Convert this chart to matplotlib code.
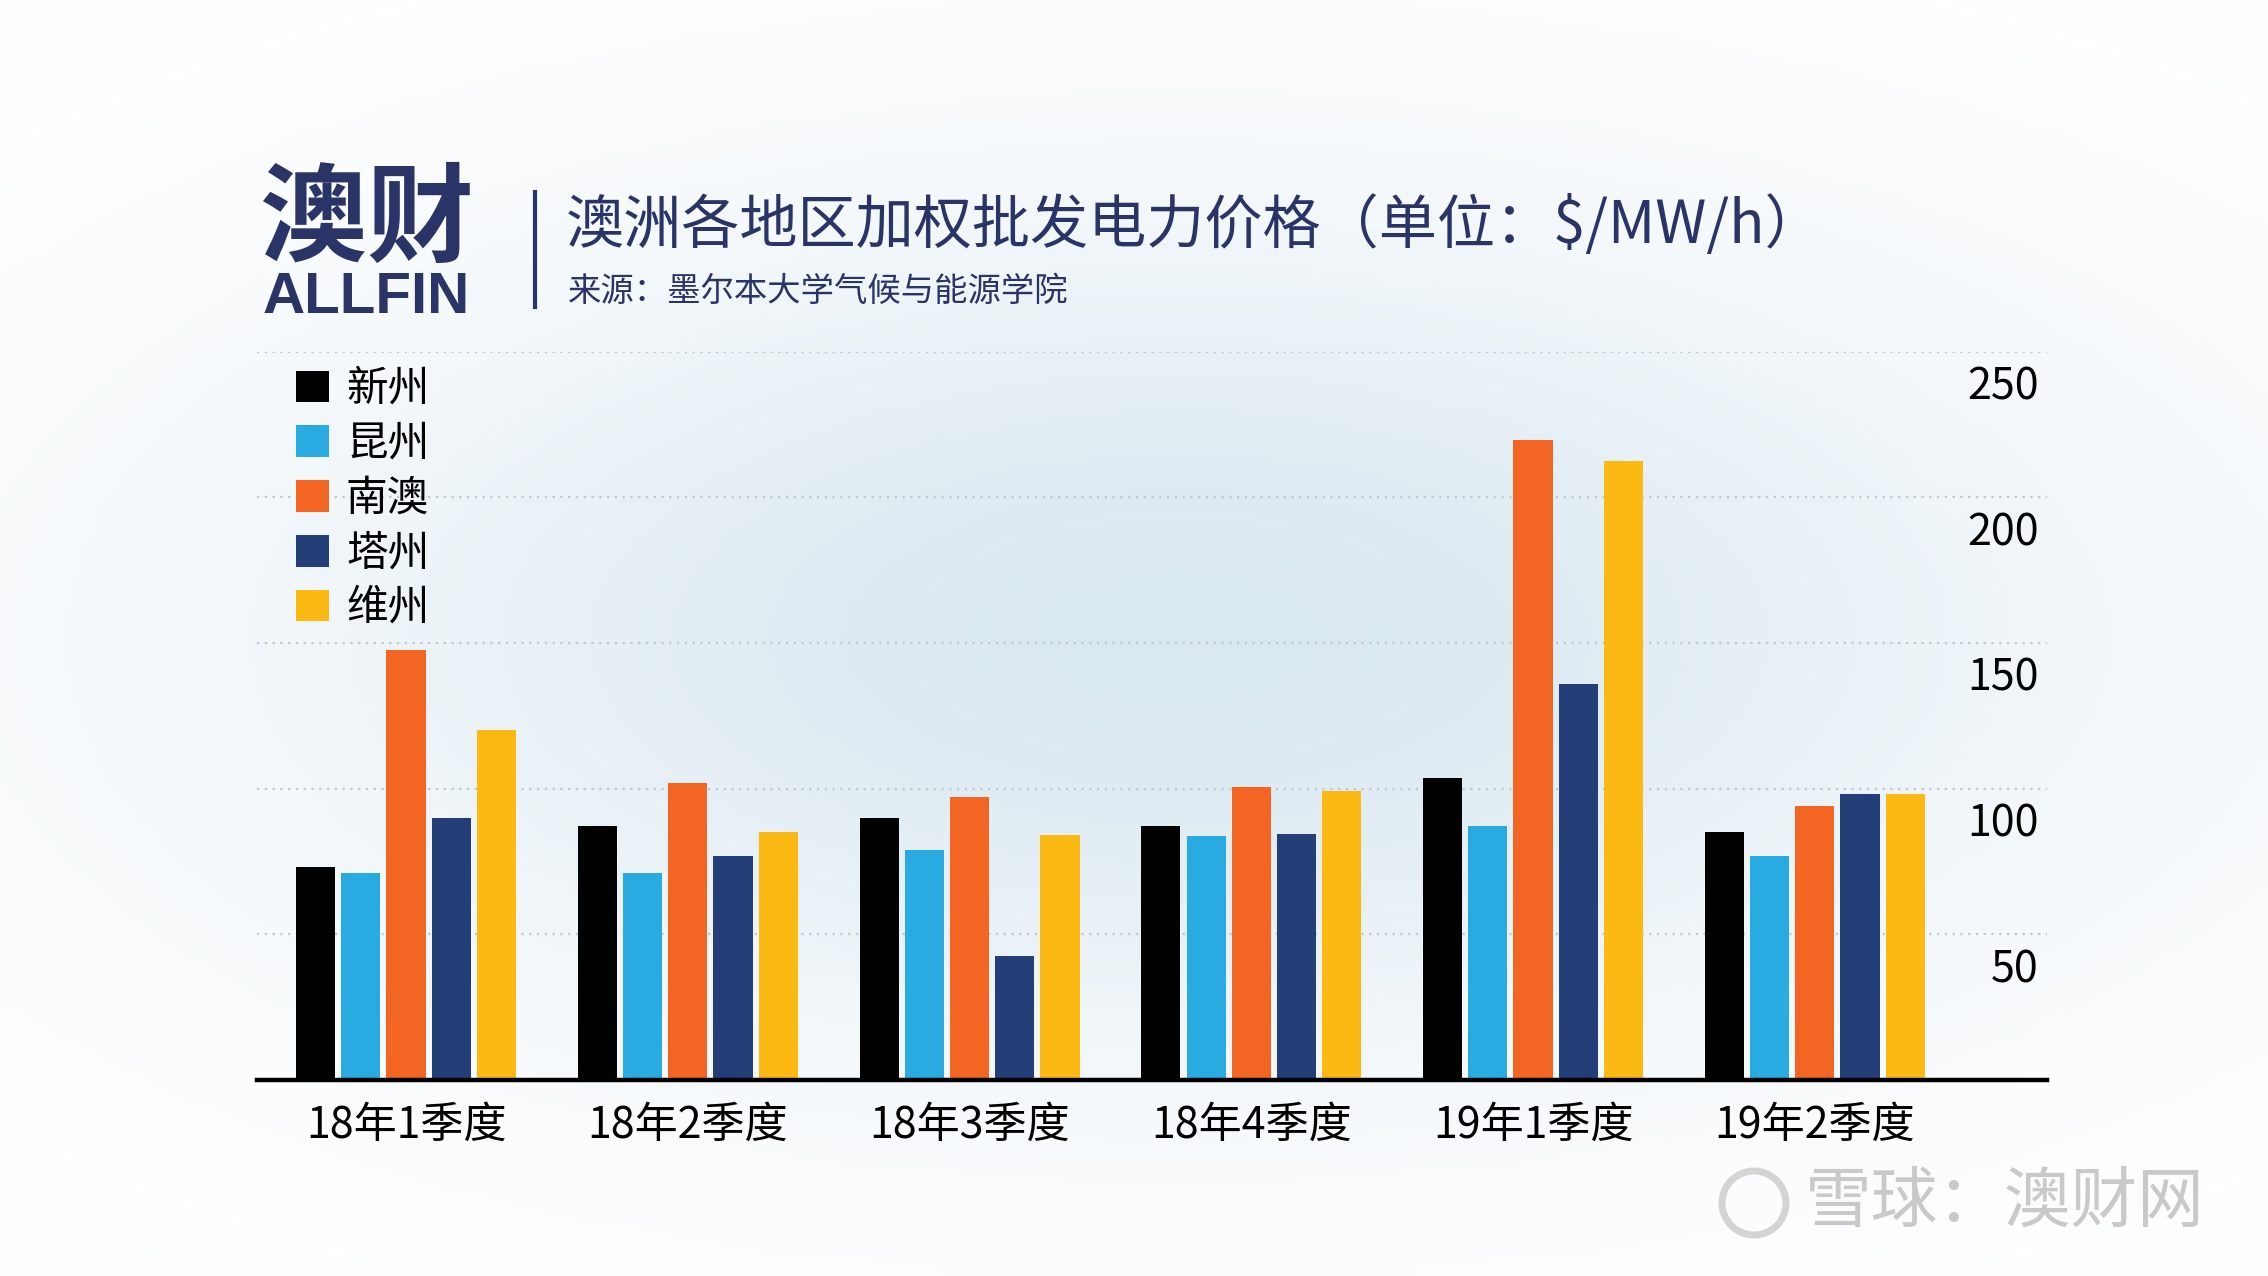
import numpy as np
import matplotlib.pyplot as plt
from matplotlib.transforms import ScaledTranslation
from matplotlib.lines import Line2D
from matplotlib.colors import to_rgb

plt.rcParams['font.family'] = ['Noto Sans CJK SC', 'DejaVu Sans']

# data ($/MW/h)
quarters = ["18年1季度", "18年2季度", "18年3季度", "18年4季度", "19年1季度", "19年2季度"]
regions = ["新州", "昆州", "南澳", "塔州", "维州"]
nsw = [73, 87, 90, 87, 103.5, 85]
qld = [71, 71, 79, 83.7, 87, 77]
sa = [147.5, 102, 97, 100.5, 219.5, 94]
tas = [90, 77, 42.7, 84.3, 135.8, 98]
vic = [120, 85, 84, 99.2, 212.3, 98]
colors = ["#000000", "#29abe2", "#f26522", "#243f78", "#fdb913"]
yticks = [50, 100, 150, 200, 250]

navy = "#2b3467"
W, H = 2268, 1276

fig = plt.figure(figsize=(22.68, 12.76), dpi=100)

# soft bluish background
bg = fig.add_axes([0, 0, 1, 1], zorder=-10)
gx, gy = np.meshgrid(np.linspace(0, 1, 300), np.linspace(0, 1, 200))
glow = np.exp(-((gx - 0.52) / 0.4) ** 2 - ((gy - 0.5) / 0.32) ** 2)
c0 = np.array(to_rgb("#ffffff"))
c1 = np.array(to_rgb("#dae8f1"))
img = c0 + (c1 - c0) * glow[..., None]
bg.imshow(img, extent=[0, 1, 0, 1], aspect="auto", origin="lower")
bg.set_axis_off()

ax = fig.add_axes([257 / W, 1 - 1080 / H, (2047 - 257) / W, (1080 - 351.5) / H])
ax.patch.set_alpha(0)

x = np.arange(len(quarters))
pitch = 0.1605
series = [nsw, qld, sa, tas, vic]
for i in range(len(regions)):
    ax.bar(x + (i - 2) * pitch, series[i], width=0.139, color=colors[i],
           label=regions[i], zorder=3)

ax.set_xlim(-0.529, 5.824)
ax.set_ylim(0, 250)
ax.set_yticks(yticks)
ax.grid(axis="y", linestyle=(0, (1, 2.5)), color="#bfc8d0", linewidth=1.6, zorder=0)
for s in ["left", "right", "top"]:
    ax.spines[s].set_visible(False)
ax.spines["bottom"].set_linewidth(3.2)
ax.spines["bottom"].set_color("black")
ax.spines["bottom"].set_zorder(4)

ax.set_xticks(x, quarters)
ax.tick_params(axis="x", length=0, pad=17, labelsize=31)
ax.yaxis.tick_right()
ax.tick_params(axis="y", length=0, pad=-6, labelsize=31)
shift = ScaledTranslation(0, -0.31, fig.dpi_scale_trans)
for lab in ax.get_yticklabels():
    lab.set_horizontalalignment("right")
    lab.set_transform(lab.get_transform() + shift)

ax.legend(loc="upper left", bbox_to_anchor=(296 / W, 1 - 369 / H),
          bbox_transform=fig.transFigure, frameon=False, fontsize=30,
          handlelength=0.8, handleheight=0.8, handletextpad=0.4,
          labelspacing=0.33, borderpad=0, borderaxespad=0)

# header
fig.text(260 / W, 1 - 222 / H, "澳财", fontsize=77, fontweight="bold",
         color=navy, va="center")
fig.text(263 / W, 1 - 298 / H, "ALLFIN", family="Liberation Sans",
         fontsize=42, fontweight="bold", color=navy, va="center")
fig.add_artist(Line2D([535 / W, 535 / W], [1 - 192 / H, 1 - 307 / H],
                      color=navy, linewidth=3))
fig.text(566 / W, 1 - 226 / H, "澳洲各地区加权批发电力价格（单位：$/MW/h）",
         fontsize=41.9, color=navy, va="center")
fig.text(568 / W, 1 - 291 / H, "来源：墨尔本大学气候与能源学院",
         fontsize=24, color=navy, va="center")

# watermark
fig.text(1805 / W, 1 - 1203 / H, "雪球：澳财网", fontsize=48,
         color="#c9c9c9", va="center")
fig.add_artist(plt.Circle((17.54, 12.76 - 12.03), 0.32, transform=fig.dpi_scale_trans,
                          fill=False, color="#d4d4d4", linewidth=5))

fig.savefig("out.png", dpi=100)
